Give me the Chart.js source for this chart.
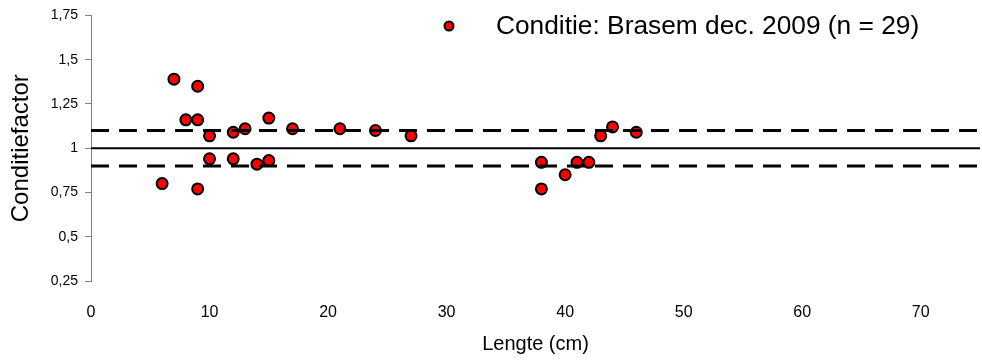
<!DOCTYPE html>
<html>
<head>
<meta charset="utf-8">
<script src="https://cdn.jsdelivr.net/npm/chart.js@4"></script>
<style>
  html, body { margin: 0; padding: 0; background: #fff; }
  #wrap { width: 982px; height: 363px; }
</style>
</head>
<body>
<div id="wrap"><canvas id="chart"></canvas></div>
<script>
// Lengte (cm) and conditiefactor
const lengths = [6, 7, 8, 9, 9, 9, 10, 10, 12, 12, 13, 14, 15, 15, 17, 21, 24, 27, 38, 38, 40, 41, 42, 43, 44, 46];
const factors = [0.80, 1.39, 1.16, 1.16, 1.35, 0.77, 1.07, 0.94, 1.09, 0.94, 1.11, 0.91, 1.17, 0.93, 1.11, 1.11, 1.10, 1.07, 0.92, 0.77, 0.85, 0.92, 0.92, 1.07, 1.12, 1.09];
const legendLabel = "Conditie: Brasem dec. 2009 (n = 29)";
const refLevel = 1;
const bandLevels = [0.9, 1.1];
const xRange = [0, 75];
const yRange = [0.25, 1.75];

const FONT = "Arial, 'Liberation Sans', sans-serif";
Chart.defaults.font.family = FONT;
Chart.defaults.color = "#000";

const hLine = (y, dash, width) => ({
  type: "line",
  data: xRange.map((x) => ({ x, y })),
  borderColor: "#000",
  borderWidth: width,
  borderDash: dash,
  pointRadius: 0,
  fill: false,
});

// legend drawn by hand, it sits inside the plot area in the original
const legendPlugin = {
  id: "customLegend",
  afterDraw(chart) {
    const ctx = chart.ctx;
    ctx.save();
    ctx.beginPath();
    ctx.arc(449, 26, 4.5, 0, Math.PI * 2);
    ctx.fillStyle = "#ff0000";
    ctx.fill();
    ctx.lineWidth = 2;
    ctx.strokeStyle = "#000";
    ctx.stroke();
    ctx.fillStyle = "#000";
    ctx.font = "26.3px " + FONT;
    ctx.textBaseline = "middle";
    ctx.fillText(legendLabel, 496, 27);
    ctx.restore();
  },
};

new Chart(document.getElementById("chart"), {
  type: "scatter",
  data: {
    datasets: [
      hLine(refLevel, [], 2),
      hLine(bandLevels[0], [18, 10], 3),
      hLine(bandLevels[1], [18, 10], 3),
      {
        label: legendLabel,
        data: lengths.map((x, i) => ({ x, y: factors[i] })),
        backgroundColor: "#ff0000",
        borderColor: "#000",
        borderWidth: 2,
        pointRadius: 5.5,
      },
    ],
  },
  options: {
    responsive: true,
    maintainAspectRatio: false,
    animation: false,
    layout: { autoPadding: false, padding: { top: 15, right: 2, left: 0, bottom: 0 } },
    plugins: {
      legend: { display: false },
      tooltip: { enabled: false },
    },
    scales: {
      x: {
        type: "linear",
        min: xRange[0],
        max: xRange[1],
        ticks: { stepSize: 10, font: { size: 16 }, padding: 14, color: "#000" },
        afterBuildTicks: (s) => { s.ticks = s.ticks.filter((t) => t.value % 10 === 0); },
        grid: { display: false },
        border: { display: false },
        title: { display: true, text: "Lengte (cm)", font: { size: 20 }, padding: { top: 4, bottom: 7 } },
        afterFit: (s) => {
          s.height = 82;
          s.paddingLeft = 0;
          s.paddingRight = 0;
        },
      },
      y: {
        min: yRange[0],
        max: yRange[1],
        ticks: {
          stepSize: 0.25,
          font: { size: 14 },
          color: "#000",
          padding: 7,
          callback: (v) => v.toString().replace(".", ","),
        },
        grid: { drawOnChartArea: false, drawTicks: true, tickLength: 6, color: "#808080" },
        border: { display: true, color: "#808080", width: 1 },
        title: { display: true, text: "Conditiefactor", font: { size: 24 }, padding: { top: 7, bottom: 0 } },
        afterFit: (s) => { s.width = 91; },
      },
    },
  },
  plugins: [legendPlugin],
});
</script>
</body>
</html>
